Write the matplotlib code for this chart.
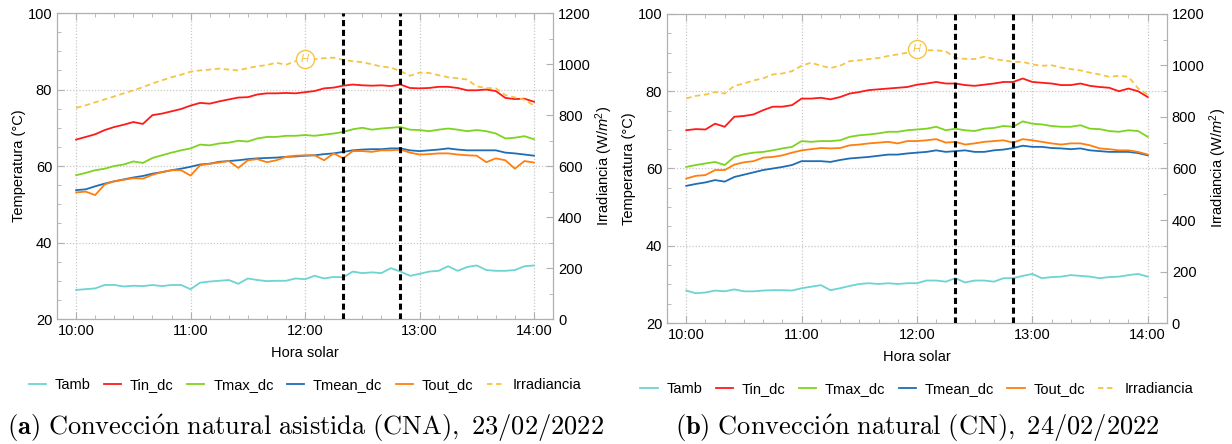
import numpy as np
import matplotlib
matplotlib.use("Agg")
import matplotlib.pyplot as plt
from matplotlib.ticker import MultipleLocator, FuncFormatter

plt.rcParams['font.family'] = ['Liberation Sans', 'DejaVu Sans']
plt.rcParams['mathtext.fontset'] = 'custom'
plt.rcParams['mathtext.rm'] = 'Liberation Sans'
plt.rcParams['mathtext.it'] = 'Liberation Sans:italic'

# time axis: 10:00 -> 14:00 every 5 min
minutes = np.arange(0, 241, 5)
hours = 10 + minutes / 60

# ---- (a) CNA, 23/02/2022 ----
tamb_a = [27.6, 27.8, 28.0, 28.9, 28.9, 28.5, 28.7, 28.6, 28.9, 28.6,
          28.9, 28.9, 27.8, 29.5, 29.8, 30.0, 30.2, 29.2, 30.6, 30.2,
          29.9, 30.0, 30.0, 30.6, 30.4, 31.3, 30.6, 31.0, 30.9, 32.4,
          32.0, 32.2, 32.0, 33.3, 32.4, 31.3, 31.8, 32.4, 32.6, 33.8,
          32.6, 33.6, 34.0, 32.8, 32.6, 32.6, 32.8, 33.8, 34.0]
tin_a = [66.9, 67.6, 68.3, 69.4, 70.2, 70.8, 71.5, 71.0, 73.3, 73.7,
         74.3, 74.9, 75.8, 76.5, 76.3, 76.9, 77.4, 77.9, 78.0, 78.7,
         79.0, 79.0, 79.1, 79.0, 79.3,
         79.6, 80.3, 80.5, 81.0, 81.3, 81.1, 81.0, 81.1, 80.9, 81.3,
         80.4, 80.3, 80.4, 80.7, 80.7, 80.4, 79.8, 79.8, 80.0, 79.6,
         77.8, 77.5, 77.6, 76.8]
tmax_a = [57.6, 58.2, 58.9, 59.3, 60.0, 60.4, 61.2, 60.8, 62.1, 62.8,
          63.5, 64.1, 64.6, 65.6, 65.4, 65.9, 66.1, 66.6, 66.4, 67.2,
          67.6, 67.6, 67.9, 67.9, 68.1,
          67.9, 68.2, 68.5, 68.9, 69.6, 70.0, 69.5, 69.8, 70.0, 70.2,
          69.5, 69.4, 69.1, 69.5, 69.8, 69.5, 69.1, 69.4, 69.1, 68.5,
          67.2, 67.4, 67.8, 67.0]
tmean_a = [53.7, 53.9, 54.7, 55.4, 56.0, 56.5, 57.0, 57.4, 58.0, 58.4,
           58.9, 59.3, 59.8, 60.4, 60.6, 61.1, 61.3, 61.5, 61.8, 62.0,
           62.1, 62.2, 62.4, 62.5, 62.7,
           62.8, 63.1, 63.3, 63.7, 64.1, 64.3, 64.4, 64.4, 64.6, 64.6,
           64.1, 63.9, 64.1, 64.3, 64.6, 64.3, 64.1, 64.1, 64.1, 64.1,
           63.5, 63.3, 63.0, 62.7]
tout_a = [53.1, 53.3, 52.4, 55.2, 56.0, 56.4, 56.8, 56.7, 57.7, 58.4,
          58.9, 58.9, 57.5, 60.2, 60.6, 60.9, 61.3, 59.5, 61.5, 61.8,
          61.0, 61.5, 62.4, 62.7, 62.8,
          62.8, 61.5, 63.3, 62.0, 63.9, 63.9, 63.7, 64.1, 64.1, 64.3,
          63.5, 63.0, 63.1, 63.3, 63.3, 63.0, 62.8, 62.7, 61.0, 62.0,
          61.5, 59.3, 61.3, 60.9]
irr_a = [828, 838, 850, 861, 873, 885, 897, 909, 924, 936,
         948, 958, 970, 975, 978, 982, 978, 975, 984, 991,
         996, 1005, 997, 1011, 1020,
         1019, 1023, 1025, 1016, 1011, 1007, 999, 990, 986, 972,
         954, 966, 965, 956, 948, 944, 939, 912, 906, 905,
         878, 869, 860, 837]

# ---- (b) CN, 24/02/2022 ----
tamb_b = [28.4, 27.7, 27.9, 28.4, 28.2, 28.7, 28.2, 28.2, 28.4, 28.5,
          28.5, 28.4, 29.0, 29.4, 29.8, 28.5, 29.0, 29.6, 30.1, 30.3,
          30.1, 30.3, 30.1, 30.3, 30.3, 31.0, 31.0, 30.7, 31.6, 30.5,
          31.0, 31.0, 30.7, 31.6, 31.6, 32.2, 32.7, 31.6, 31.9, 32.0,
          32.4, 32.2, 32.0, 31.6, 31.9, 32.0, 32.4, 32.7, 32.0]
tin_b = [69.9, 70.2, 70.1, 71.6, 70.8, 73.4, 73.6, 74.0, 75.1, 76.0,
         76.0, 76.4, 78.1, 78.1, 78.3, 77.9, 78.5, 79.4, 79.8, 80.3,
         80.5, 80.7, 80.9, 81.1, 81.7,
         82.0, 82.4, 82.0, 82.0, 81.6, 81.4, 81.7, 82.0, 82.4, 82.4,
         83.3, 82.4, 82.2, 82.0, 81.6, 81.6, 82.0, 81.4, 81.1, 80.9,
         80.0, 80.7, 80.0, 78.5]
tmax_b = [60.4, 60.9, 61.3, 61.7, 60.9, 63.0, 63.7, 64.1, 64.3, 64.7,
          65.2, 65.6, 67.1, 66.9, 67.1, 67.1, 67.3, 68.2, 68.6, 68.8,
          69.1, 69.5, 69.5, 69.9, 70.1,
          70.3, 70.8, 69.9, 70.3, 69.9, 69.7, 70.3, 70.5, 71.0, 70.8,
          72.2, 71.6, 71.4, 71.0, 70.8, 70.8, 71.2, 70.3, 70.2, 69.7,
          69.5, 69.9, 69.7, 68.2]
tmean_b = [55.5, 56.0, 56.4, 57.0, 56.6, 57.8, 58.4, 59.0, 59.6, 60.0,
           60.4, 60.9, 61.9, 61.9, 61.9, 61.7, 62.2, 62.6, 62.8, 63.0,
           63.3, 63.6, 63.6, 63.9, 64.1,
           64.3, 64.7, 64.3, 64.5, 64.7, 64.3, 64.3, 64.7, 64.9, 65.3,
           65.9, 65.6, 65.6, 65.3, 65.2, 65.0, 65.2, 64.7, 64.5, 64.3,
           64.3, 64.3, 64.0, 63.4]
tout_b = [57.4, 58.1, 58.3, 59.6, 59.6, 61.0, 61.6, 61.9, 62.8, 63.0,
          63.4, 64.1, 64.7, 65.0, 65.3, 65.2, 65.3, 66.0, 66.2, 66.5,
          66.7, 66.9, 66.5, 67.1, 67.1,
          67.3, 67.6, 66.7, 66.9, 66.2, 66.5, 66.9, 67.1, 67.3, 66.7,
          67.6, 67.3, 66.9, 66.5, 66.2, 66.5, 66.5, 66.0, 65.2, 65.0,
          64.7, 64.7, 64.3, 63.6]
irr_b = [872, 882, 887, 897, 891, 921, 930, 942, 950, 965,
         969, 978, 999, 1011, 999, 990, 999, 1017, 1020, 1025,
         1029, 1037, 1043, 1050, 1064,
         1059, 1059, 1055, 1029, 1026, 1025, 1034, 1025, 1020, 1014,
         1014, 1004, 999, 1001, 992, 986, 981, 972, 965, 956,
         960, 956, 911, 887]

labels = ['Tamb', 'Tin_dc', 'Tmax_dc', 'Tmean_dc', 'Tout_dc', 'Irradiancia']
colors = ['#6dd3d3', '#ff1a1a', '#7ed321', '#1f6db5', '#ff7f0e', '#f5c542']
event_hours = [12 + 20/60, 12 + 50/60]
marker_hour = 12.0

captions = [r'$\mathbf{(a)}\ \mathrm{Convecci\acute{o}n\ natural\ asistida\ (CNA),\ 23/02/2022}$',
            r'$\mathbf{(b)}\ \mathrm{Convecci\acute{o}n\ natural\ (CN),\ 24/02/2022}$']

panels = [
    ([tamb_a, tin_a, tmax_a, tmean_a, tout_a], irr_a, [0.0463, 0.2815, 0.4026, 0.6892]),
    ([tamb_b, tin_b, tmax_b, tmean_b, tout_b], irr_b, [0.5414, 0.2725, 0.4058, 0.696]),
]

fig = plt.figure(figsize=(12.32, 4.44), dpi=100)
spine_col = '#b0b0b0'

for i, (temps, irr, rect) in enumerate(panels):
    ax = fig.add_axes(rect)
    ax2 = ax.twinx()
    handles = []
    for t, c, lab in zip(temps, colors[:5], labels[:5]):
        h, = ax.plot(hours, t, color=c, lw=1.3, label=lab)
        handles.append(h)
    h, = ax2.plot(hours, irr, color=colors[5], lw=1.3, ls=(0, (3, 2)), label=labels[5])
    handles.append(h)

    # H marker on the irradiance curve at 12:00
    k = list(hours).index(marker_hour)
    ax2.plot(hours[k], irr[k], 'o', ms=13, mfc='white', mec=colors[5], mew=1.0, zorder=5)
    ax2.text(hours[k], irr[k], 'H', color=colors[5], fontsize=8, style='italic',
             ha='center', va='center', zorder=6)

    for xv in event_hours:
        ax2.axvline(xv, color='black', lw=2.2, ls=(0, (2, 1.2)), zorder=7)

    ax.set_xlim(10 - 10/60, 14 + 10/60)
    ax.set_ylim(20, 100)
    ax2.set_ylim(0, 1200)
    ax.xaxis.set_major_locator(MultipleLocator(1))
    ax.xaxis.set_minor_locator(MultipleLocator(10/60))
    ax.xaxis.set_major_formatter(FuncFormatter(lambda v, p: f'{int(round(v))}:00'))
    ax.yaxis.set_major_locator(MultipleLocator(20))
    ax.yaxis.set_minor_locator(MultipleLocator(5))
    ax2.yaxis.set_major_locator(MultipleLocator(200))
    ax2.yaxis.set_minor_locator(MultipleLocator(100))

    ax.grid(True, which='major', color='#c8c8c8', ls=(0, (1, 1.5)), lw=0.9)
    ax.tick_params(which='both', direction='in', top=True, color=spine_col, labelsize=10.5)
    ax.tick_params(which='major', length=5)
    ax.tick_params(which='minor', length=3)
    ax2.tick_params(which='both', direction='in', color=spine_col, labelsize=10.5)
    ax2.tick_params(which='major', length=5)
    ax2.tick_params(which='minor', length=3)
    for a in (ax, ax2):
        for s in a.spines.values():
            s.set_color(spine_col)

    ax.set_xlabel('Hora solar', fontsize=10.5, labelpad=6)
    ax.set_ylabel('Temperatura (°C)', fontsize=10.5, labelpad=1)
    ax2.set_ylabel(r'Irradiancia (W/$m^2$)', fontsize=10.5, labelpad=2)

    ax.legend(handles, labels, loc='center', bbox_to_anchor=(0.5, -0.215), ncol=6,
              frameon=False, fontsize=10.5, handlelength=1.2, columnspacing=0.9,
              handletextpad=0.6)

    cx = rect[0] + rect[2] / 2
    fig.text(cx, 0.035, captions[i], ha='center', va='center', fontsize=19,
             math_fontfamily='cm')

fig.savefig('out.png', dpi=100)
